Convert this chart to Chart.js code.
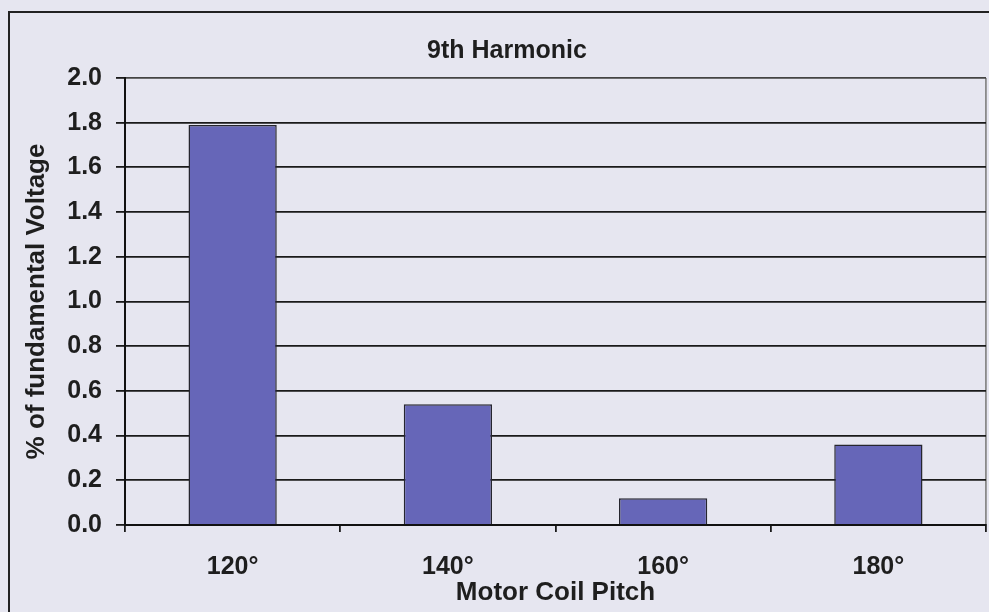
<!DOCTYPE html>
<html>
<head>
<meta charset="utf-8">
<title>9th Harmonic</title>
<script src="https://cdn.jsdelivr.net/npm/chart.js@4/dist/chart.umd.min.js"></script>
<style>
  html, body { margin: 0; padding: 0; overflow: hidden; background: #e6e6f0; }
  #frame {
    position: absolute; left: 8px; top: 11px;
    width: 1200px; height: 1000px;
    border: 2px solid #222;
  }
  #wrap { position: absolute; left: 0; top: 0; width: 989px; height: 612px; }
</style>
</head>
<body>
<div id="frame"></div>
<div id="wrap"><canvas id="harmonicChart"></canvas></div>
<script>
const coilPitches = ['120°', '140°', '160°', '180°'];
const ninthHarmonic = [1.79, 0.54, 0.12, 0.36];
const yTickLabels = ['0.0', '0.2', '0.4', '0.6', '0.8', '1.0', '1.2', '1.4', '1.6', '1.8', '2.0'];

Chart.defaults.font.family = '"Liberation Sans", Arial, sans-serif';
Chart.defaults.font.weight = 'bold';
Chart.defaults.color = '#1e1e1e';

// nudge the title a little right, like the original sheet
const titleShift = {
  id: 'titleShift',
  afterLayout(chart) {
    if (chart.titleBlock) chart.titleBlock.left += 28;
  },
};

function buildChart() {
  const canvas = document.getElementById('harmonicChart');
  new Chart(canvas, {
    type: 'bar',
    data: {
      labels: coilPitches,
      datasets: [{
        label: '9th Harmonic',
        data: ninthHarmonic,
        backgroundColor: '#6666b8',
        borderColor: '#26262e',
        borderWidth: 1.5,
        barPercentage: 0.41,
        categoryPercentage: 1,
      }],
    },
    options: {
      responsive: true,
      maintainAspectRatio: false,
      animation: false,
      layout: { padding: { left: 0, right: 3, top: 0, bottom: 0 } },
      plugins: {
        legend: { display: false },
        tooltip: { enabled: false },
        title: {
          display: true,
          text: '9th Harmonic',
          color: '#1e1e1e',
          font: { size: 25, weight: 'bold' },
          padding: { top: 36, bottom: 12 },
        },
      },
      scales: {
        x: {
          afterFit: (scale) => { scale.height = 87; },
          grid: {
            offset: true,
            drawOnChartArea: true,
            color: (c) => (c.index === undefined ? '#8a8a8a' : 'rgba(0,0,0,0)'),
            tickColor: '#1a1a1a',
            tickLength: 7,
            lineWidth: 1.8,
          },
          border: { display: true, color: '#111', width: 2 },
          ticks: { color: '#1e1e1e', font: { size: 25 }, padding: 20 },
          title: {
            display: true,
            text: 'Motor Coil Pitch',
            color: '#1e1e1e',
            font: { size: 26, weight: 'bold' },
            padding: { top: 0, bottom: 4 },
          },
        },
        y: {
          min: 0,
          max: 2,
          afterFit: (scale) => { scale.width = 125; },
          ticks: {
            stepSize: 0.2,
            color: '#1e1e1e',
            font: { size: 25 },
            padding: 14,
            callback: (value, index) => yTickLabels[index],
          },
          grid: {
            color: (c) => (c.index === yTickLabels.length - 1 ? '#444' : '#1a1a1a'),
            tickColor: '#1a1a1a',
            tickLength: 9,
            lineWidth: 1.8,
          },
          border: { display: true, color: '#111', width: 2 },
          title: {
            display: true,
            text: '% of fundamental Voltage',
            color: '#1e1e1e',
            font: { size: 26, weight: 'bold' },
            padding: { top: 21, bottom: 0 },
          },
        },
      },
    },
    plugins: [titleShift],
  });
}

window.addEventListener('DOMContentLoaded', buildChart);
</script>
</body>
</html>
